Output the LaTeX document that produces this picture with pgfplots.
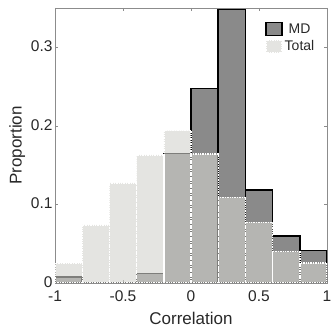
\documentclass[border=0pt]{standalone}
\usepackage{pgfplots}
\pgfplotsset{compat=1.18}
\usepackage{fontspec}
\setmainfont{Liberation Sans}
\definecolor{mdfill}{RGB}{138,138,138}
\definecolor{totfill}{RGB}{210,210,205}
\definecolor{axgray}{RGB}{140,140,140}
\definecolor{txtgray}{RGB}{40,40,40}
\begin{document}
\begin{tikzpicture}
\begin{axis}[
  scale only axis,
  width=272pt, height=275pt,
  xmin=-1, xmax=1, ymin=0, ymax=0.35,
  xtick={-1,-0.5,0,0.5,1},
  xticklabels={-1,-0.5,0,0.5,1},
  ytick={0,0.1,0.2,0.3},
  yticklabels={0,0.1,0.2,0.3},
  tick align=inside,
  major tick length=3pt,
  axis line style={axgray, line width=0.6pt},
  tick style={axgray, line width=0.6pt},
  tick label style={font=\fontsize{15.5}{17}\selectfont, text=txtgray},
  xticklabel style={yshift=-4pt},
  yticklabel style={xshift=1pt, yshift=1pt},
  xlabel={Correlation}, ylabel={Proportion},
  label style={font=\fontsize{17}{19}\selectfont, text=txtgray},
  xlabel style={yshift=-4pt},
  ylabel style={yshift=-1pt},
  legend style={draw=none, fill=none, at={(0.965,0.955)}, anchor=north east,
    font=\fontsize{14}{16}\selectfont, text=txtgray, row sep=2pt, inner sep=1pt,
    /tikz/every even column/.append style={column sep=0pt}},
  legend image code/.code={\draw[#1] (0pt,-6.5pt) rectangle (16pt,6.5pt);},
]
\addplot[ybar interval, fill=mdfill, draw=black, line width=1.6pt] coordinates {
(-1,0.008) (-0.8,0) (-0.6,0) (-0.4,0.012) (-0.2,0.165) (0,0.2475) (0.2,0.349) (0.4,0.1186) (0.6,0.0597) (0.8,0.0415) (1,0.0415)};
\addlegendentry{MD}
\addplot[ybar interval, fill=totfill, fill opacity=0.6, draw=white, densely dotted, line width=1.4pt] coordinates {
(-1,0.0254) (-0.8,0.074) (-0.6,0.1275) (-0.4,0.163) (-0.2,0.194) (0,0.164) (0.2,0.109) (0.4,0.077) (0.6,0.040) (0.8,0.0254) (1,0.0254)};
\addlegendentry{Total}
\draw[axgray, line width=0.6pt] (rel axis cs:0,1) -- (rel axis cs:1,1) -- (rel axis cs:1,0);
\end{axis}
\pgfresetboundingbox
\path[use as bounding box] ([xshift=-55pt,yshift=-45pt]current axis.south west) rectangle ([xshift=4pt,yshift=8pt]current axis.north east);
\end{tikzpicture}
\end{document}
